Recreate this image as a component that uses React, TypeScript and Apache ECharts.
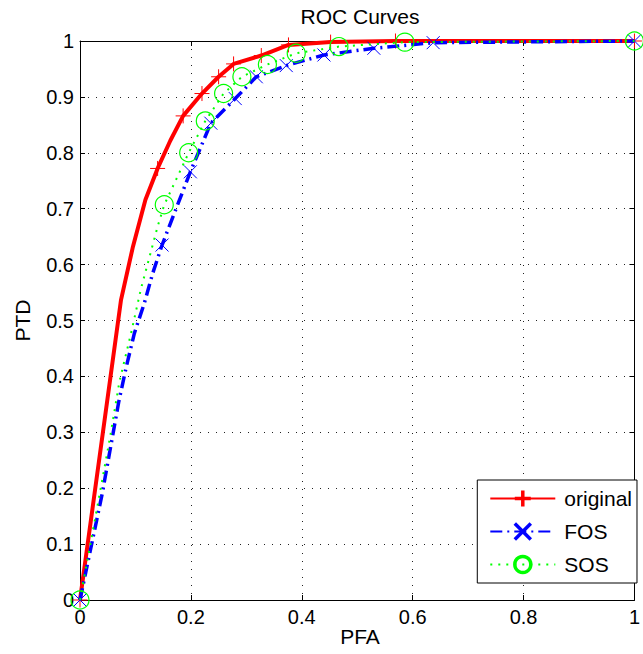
import React, { useEffect, useRef } from "react";
import * as echarts from "echarts";

const xTicks = [0, 0.2, 0.4, 0.6, 0.8, 1];
const yTicks = [0, 0.1, 0.2, 0.3, 0.4, 0.5, 0.6, 0.7, 0.8, 0.9, 1];

const seriesNames = ["original", "FOS", "SOS"];

const pfaOriginal = [0, 0.074, 0.095, 0.118, 0.14, 0.163, 0.186, 0.22, 0.25, 0.277, 0.327, 0.376, 0.452, 0.569, 1];
const ptdOriginal = [0, 0.537, 0.63, 0.716, 0.772, 0.822, 0.866, 0.906, 0.936, 0.959, 0.974, 0.993, 0.998, 1.0, 1.0];
const markOriginal = [1, 0, 0, 0, 1, 0, 1, 1, 1, 1, 1, 1, 1, 1, 1];

const pfaFOS = [0, 0.04, 0.07, 0.083, 0.098, 0.116, 0.131, 0.148, 0.199, 0.236, 0.28, 0.318, 0.372, 0.44, 0.53, 0.637, 1];
const ptdFOS = [0, 0.19, 0.355, 0.415, 0.477, 0.531, 0.584, 0.635, 0.766, 0.853, 0.897, 0.936, 0.956, 0.975, 0.987, 0.997, 1.0];
const markFOS = [1, 0, 0, 0, 0, 0, 0, 1, 1, 1, 1, 1, 1, 1, 1, 1, 1];

const pfaSOS = [0, 0.033, 0.054, 0.071, 0.092, 0.11, 0.14, 0.152, 0.196, 0.226, 0.259, 0.292, 0.338, 0.39, 0.467, 0.586, 1];
const ptdSOS = [0, 0.176, 0.29, 0.39, 0.477, 0.557, 0.668, 0.707, 0.8, 0.857, 0.906, 0.936, 0.958, 0.978, 0.99, 0.998, 1.0];
const markSOS = [1, 0, 0, 0, 0, 0, 0, 1, 1, 1, 1, 1, 1, 1, 1, 1, 1];

const FONT = "'Liberation Sans', Arial, Helvetica, sans-serif";
const PLUS = "path://M0,-7L0,7M-7,0L7,0";
const CROSS = "path://M-7,-7L7,7M-7,7L7,-7";

function build(xs: number[], ys: number[], marks: number[]) {
  return xs.map((x, i) => (marks[i] ? [x, ys[i]] : { value: [x, ys[i]], symbol: "none" }));
}

export default function App() {
  const ref = useRef<HTMLDivElement>(null);
  useEffect(() => {
    if (!ref.current) return;
    const chart = echarts.init(ref.current, undefined, { renderer: "svg" });
    const L = 80, T = 41, W = 560, H = 559;
    const tickCommon = { show: true, inside: true, length: 5, lineStyle: { color: "#000", width: 1 } };
    const lineCommon = { show: true, onZero: false, lineStyle: { color: "#000", width: 1 } };
    chart.setOption({
      animation: false,
      backgroundColor: "#fff",
      grid: { left: L, top: T, width: W, height: H, containLabel: false },
      graphic: [
        { type: "text", x: L + W / 2, y: 16, style: { text: "ROC Curves", font: `21px ${FONT}`, fill: "#000", textAlign: "center", textVerticalAlign: "middle" } },
        { type: "text", x: L + W / 2, y: 636, style: { text: "PFA", font: `21px ${FONT}`, fill: "#000", textAlign: "center", textVerticalAlign: "middle" } },
        { type: "text", x: 22, y: T + H / 2, rotation: Math.PI / 2, style: { text: "PTD", font: `21px ${FONT}`, fill: "#000", textAlign: "center", textVerticalAlign: "middle" } },
      ],
      xAxis: [
        {
          type: "value", min: 0, max: 1, interval: 0.2, position: "bottom",
          axisLine: lineCommon, axisTick: tickCommon,
          axisLabel: { show: true, margin: 7, color: "#000", fontSize: 20, fontFamily: FONT, formatter: (v: number) => String(xTicks.find((t) => Math.abs(t - v) < 1e-6) ?? v) },
          splitLine: { show: true, lineStyle: { color: "#222", width: 1, type: [1, 7] } },
        },
        {
          type: "value", min: 0, max: 1, interval: 0.2, position: "top",
          axisLine: lineCommon, axisTick: tickCommon, axisLabel: { show: false }, splitLine: { show: false },
        },
      ],
      yAxis: [
        {
          type: "value", min: 0, max: 1, interval: 0.1, position: "left",
          axisLine: lineCommon, axisTick: tickCommon,
          axisLabel: { show: true, margin: 6, color: "#000", fontSize: 20, fontFamily: FONT, formatter: (v: number) => String(yTicks.find((t) => Math.abs(t - v) < 1e-6) ?? v) },
          splitLine: { show: true, lineStyle: { color: "#222", width: 1, type: [1, 7] } },
        },
        {
          type: "value", min: 0, max: 1, interval: 0.1, position: "right",
          axisLine: lineCommon, axisTick: tickCommon, axisLabel: { show: false }, splitLine: { show: false },
        },
      ],
      legend: {
        orient: "vertical",
        right: 6,
        bottom: 71,
        backgroundColor: "#fff",
        borderColor: "#000",
        borderWidth: 1,
        borderRadius: 0,
        padding: [8, 5, 8, 12],
        itemWidth: 65,
        itemHeight: 20,
        itemGap: 12,
        textStyle: { color: "#000", fontSize: 21, fontFamily: FONT, padding: [0, 0, 0, 4] },
        data: [
          { name: seriesNames[0], itemStyle: { borderWidth: 3.5 } },
          { name: seriesNames[1], itemStyle: { borderWidth: 3.5 } },
          { name: seriesNames[2], itemStyle: { borderWidth: 3.5 } },
        ],
      },
      series: [
        {
          name: seriesNames[0], type: "line", silent: true,
          data: build(pfaOriginal, ptdOriginal, markOriginal),
          symbol: PLUS, symbolSize: 15,
          itemStyle: { color: "none", borderColor: "#ff0000", borderWidth: 1 },
          lineStyle: { color: "#ff0000", width: 4, type: "solid" },
          z: 3,
        },
        {
          name: seriesNames[1], type: "line", silent: true,
          data: build(pfaFOS, ptdFOS, markFOS),
          symbol: CROSS, symbolSize: 13,
          itemStyle: { color: "none", borderColor: "#0000ff", borderWidth: 1 },
          lineStyle: { color: "#0000ff", width: 3.5, type: [12, 5, 2, 5] },
          z: 4,
        },
        {
          name: seriesNames[2], type: "line", silent: true,
          data: build(pfaSOS, ptdSOS, markSOS),
          symbol: "circle", symbolSize: 18,
          itemStyle: { color: "rgba(0,0,0,0)", borderColor: "#00ff00", borderWidth: 1.2 },
          lineStyle: { color: "#00ff00", width: 2, type: [2, 6] },
          z: 5,
        },
      ],
    });
    return () => chart.dispose();
  }, []);
  return (
    <div
      ref={ref}
      style={{ position: "fixed", left: 0, top: 0, width: 643, height: 654, background: "#fff" }}
    />
  );
}
